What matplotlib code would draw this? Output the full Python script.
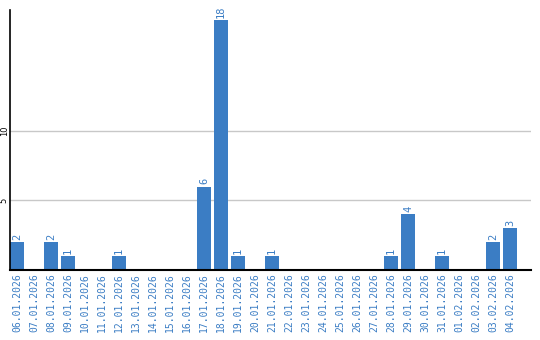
import matplotlib
matplotlib.use("Agg")
import matplotlib.pyplot as plt

dates = ["06.01.2026", "07.01.2026", "08.01.2026", "09.01.2026", "10.01.2026",
         "11.01.2026", "12.01.2026", "13.01.2026", "14.01.2026", "15.01.2026",
         "16.01.2026", "17.01.2026", "18.01.2026", "19.01.2026", "20.01.2026",
         "21.01.2026", "22.01.2026", "23.01.2026", "24.01.2026", "25.01.2026",
         "26.01.2026", "27.01.2026", "28.01.2026", "29.01.2026", "30.01.2026",
         "31.01.2026", "01.02.2026", "02.02.2026", "03.02.2026", "04.02.2026"]
counts = [2, 0, 2, 1, 0, 0, 1, 0, 0, 0, 0, 6, 18, 1, 0,
          1, 0, 0, 0, 0, 0, 0, 1, 4, 0, 1, 0, 0, 2, 3]
yticks = [5, 10]

blue = "#3b7dc4"
W, H = 540, 340

fig = plt.figure(figsize=(W / 100, H / 100), dpi=100)
ax = fig.add_axes([10 / W, 70 / H, 521 / W, 260 / H])

x = list(range(len(dates)))
ax.bar(x, counts, width=14 / 17, color=blue, zorder=2)

# value labels above non-zero bars
for xi, c in zip(x, counts):
    if c > 0:
        ax.text(xi, c + 0.15, str(c), rotation=90, ha="center", va="bottom",
                color=blue, fontsize=7.5, family="DejaVu Sans Mono")

ax.set_xlim(-0.41, -0.41 + 521 / 17)
ax.set_ylim(0, 18.7)
ax.set_xticks(x)
ax.set_xticklabels(dates, rotation=90, color=blue, fontsize=7, family="DejaVu Sans Mono")
ax.set_yticks(yticks)
ax.set_yticklabels([str(t) for t in yticks], rotation=90, va="center", fontsize=6)
ax.tick_params(axis="both", length=0, pad=2)
ax.tick_params(axis="y", pad=1)
ax.grid(axis="y", color="#c8c8c8", linewidth=1, zorder=0)

for s in ["top", "right"]:
    ax.spines[s].set_visible(False)
ax.spines["left"].set_linewidth(1.2)
ax.spines["bottom"].set_linewidth(1.5)

fig.savefig("out.png", dpi=100)
